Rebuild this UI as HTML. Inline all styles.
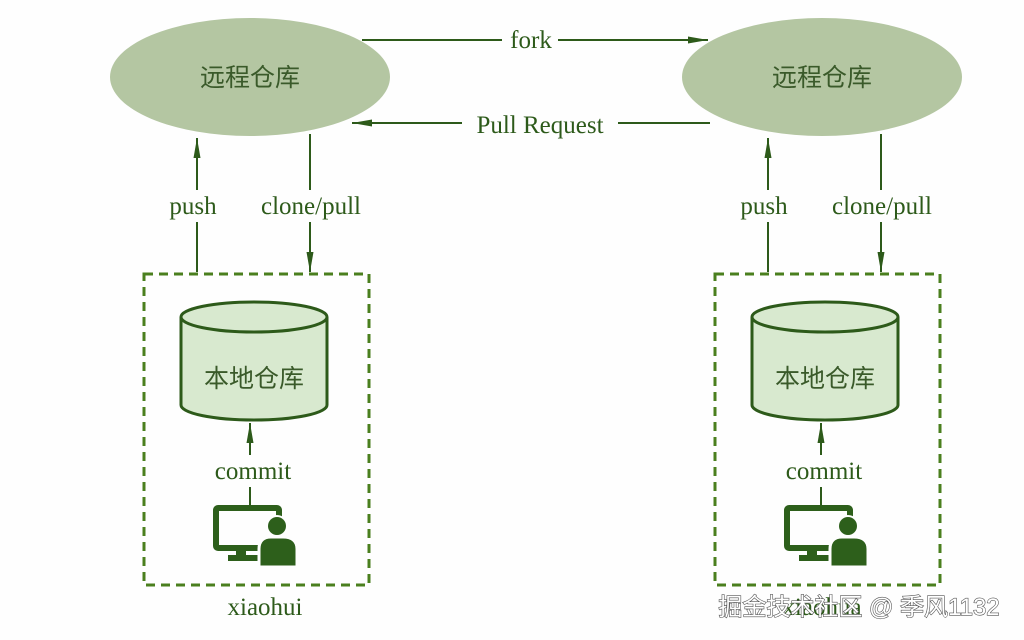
<!DOCTYPE html>
<html><head><meta charset="utf-8"><style>
html,body{margin:0;padding:0;background:#fefefe;}
svg{display:block}
.t{font-family:"Liberation Serif","Noto Serif CJK SC",serif;fill:#2d5a1a;}
.c{font-family:"Liberation Sans","Noto Sans CJK SC",sans-serif;fill:#3a5a2a;}
</style></head><body>
<svg width="1024" height="640" viewBox="0 0 1024 640" xmlns="http://www.w3.org/2000/svg">
<defs>
<marker id="b" viewBox="0 0 20 10" refX="20" refY="5" markerWidth="24" markerHeight="10" markerUnits="userSpaceOnUse" orient="auto">
<path d="M0,1.5 L20,5 L0,8.5 Z" fill="#2d5a1a"/></marker>
<g id="side">
<line x1="197" y1="272" x2="197" y2="138" stroke="#2d5a1a" stroke-width="2" marker-end="url(#b)"/>
<line x1="310" y1="134" x2="310" y2="272" stroke="#2d5a1a" stroke-width="2" marker-end="url(#b)"/>
<rect x="184" y="190" width="30" height="32" fill="#fefefe"/>
<rect x="255" y="190" width="112" height="32" fill="#fefefe"/>
<text x="193" y="214" class="t" font-size="25" text-anchor="middle">push</text>
<text x="311" y="214" class="t" font-size="25" text-anchor="middle">clone/pull</text>
<rect x="144" y="274" width="225" height="311" fill="none" stroke="#4a7f1e" stroke-width="3" stroke-dasharray="9,6"/>
<path d="M181,317 L181,405 A73,15 0 0 0 327,405 L327,317" fill="#d8e9cf" stroke="#2d5a1a" stroke-width="3"/>
<ellipse cx="254" cy="317" rx="73" ry="15" fill="#d8e9cf" stroke="#2d5a1a" stroke-width="3"/>
<text x="254" y="387" class="c" font-size="25" text-anchor="middle">本地仓库</text>
<line x1="250" y1="505" x2="250" y2="423" stroke="#2d5a1a" stroke-width="2" marker-end="url(#b)"/>
<rect x="205" y="455" width="95" height="32" fill="#fefefe"/>
<text x="253" y="479" class="t" font-size="25" text-anchor="middle">commit</text>
<rect x="216" y="508" width="63" height="40" rx="2" fill="none" stroke="#2d5f1b" stroke-width="6"/>
<rect x="236" y="549" width="10" height="9" fill="#2d5f1b"/>
<rect x="228" y="555" width="34" height="6" fill="#2d5f1b"/>
<circle cx="277" cy="526" r="11" fill="#fefefe"/>
<circle cx="277" cy="526" r="9" fill="#2d5f1b"/>
<path d="M259,567 L259,549 Q259,537 271,537 L283,537 Q297,537 297,549 L297,567 Z" fill="#2d5f1b" stroke="#fefefe" stroke-width="3"/>
</g>
</defs>
<line x1="362" y1="40" x2="708" y2="40" stroke="#2d5a1a" stroke-width="2" marker-end="url(#b)"/>
<line x1="710" y1="123" x2="352" y2="123" stroke="#2d5a1a" stroke-width="2" marker-end="url(#b)"/>
<ellipse cx="250" cy="77" rx="140" ry="59" fill="#b4c6a2"/>
<ellipse cx="822" cy="77" rx="140" ry="59" fill="#b4c6a2"/>
<rect x="502" y="26" width="56" height="30" fill="#fefefe"/>
<text x="531" y="48" class="t" font-size="25" text-anchor="middle">fork</text>
<rect x="462" y="108" width="156" height="32" fill="#fefefe"/>
<text x="540" y="133" class="t" font-size="25" text-anchor="middle">Pull Request</text>
<text x="250" y="86" class="c" font-size="25" text-anchor="middle">远程仓库</text>
<text x="822" y="86" class="c" font-size="25" text-anchor="middle">远程仓库</text>
<use href="#side"/>
<use href="#side" transform="translate(571,0)"/>
<text x="265" y="615" class="t" font-size="25" text-anchor="middle">xiaohui</text>
<text x="822" y="615" class="t" font-size="25" text-anchor="middle">xiaohua</text>
<text x="859" y="615" font-family="Liberation Sans,Noto Sans CJK SC,sans-serif" font-size="24" text-anchor="middle" fill="#fff" stroke="#555" stroke-width="1.2" paint-order="stroke">掘金技术社区 @ 季风1132</text>
</svg>
</body></html>
